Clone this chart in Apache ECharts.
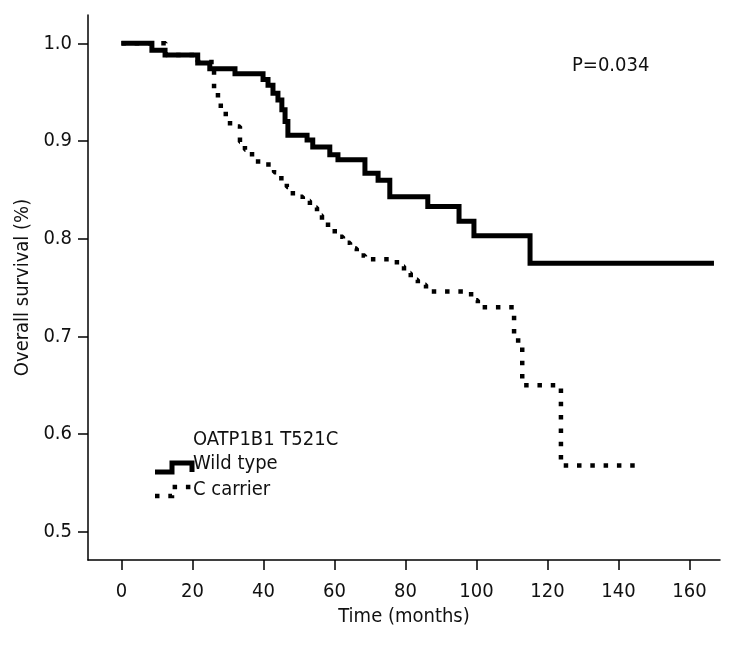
<!DOCTYPE html>
<html>
<head>
<meta charset="utf-8">
<style>
  html, body { margin: 0; padding: 0; background: #fff; }
  #chart { width: 744px; height: 648px; }
</style>
<script src="https://cdn.jsdelivr.net/npm/echarts@6/dist/echarts.min.js"></script>
</head>
<body>
<div id="chart"></div>
<script>
// Kaplan-Meier step data: [month, survival] — survival drops to the value at that month
const wildType = [
  [0, 1.0], [8.6, 0.993], [12.3, 0.988], [21.5, 0.980], [24.9, 0.974], [32.0, 0.969],
  [39.9, 0.963], [41.3, 0.957], [42.7, 0.949], [44.1, 0.942], [45.2, 0.932], [46.1, 0.920],
  [46.9, 0.906], [52.3, 0.901], [53.9, 0.894], [58.7, 0.886], [61.0, 0.881], [68.6, 0.867],
  [72.3, 0.860], [75.6, 0.843], [86.3, 0.833], [95.1, 0.818], [99.3, 0.803], [115.1, 0.775],
  [166.9, 0.775]
];
const cCarrier = [
  [0, 1.0], [12.5, 0.988], [21.5, 0.981], [26.1, 0.952], [27.2, 0.942], [28.0, 0.932],
  [29.4, 0.924], [30.6, 0.915], [33.4, 0.899], [34.8, 0.891], [36.8, 0.883], [38.5, 0.876],
  [43.0, 0.868], [44.4, 0.862], [46.6, 0.853], [48.3, 0.843], [51.1, 0.839], [53.1, 0.832],
  [55.1, 0.824], [56.5, 0.817], [58.2, 0.811], [60.1, 0.802], [62.4, 0.796], [64.4, 0.790],
  [66.3, 0.783], [68.6, 0.779], [77.6, 0.772], [79.6, 0.765], [81.5, 0.758], [83.5, 0.753],
  [85.8, 0.746], [98.5, 0.737], [100.4, 0.730], [110.6, 0.696], [112.9, 0.650],
  [123.8, 0.568], [146.1, 0.568]
];
const xTicks = [0, 20, 40, 60, 80, 100, 120, 140, 160];
const yTicks = [0.5, 0.6, 0.7, 0.8, 0.9, 1.0];
const seriesNames = ['Wild type', 'C carrier'];
const legendTitle = 'OATP1B1 T521C';
const pText = 'P=0.034';

const FONT = '"Liberation Sans Narrow", "DejaVu Sans Condensed", "Noto Sans", sans-serif';
const chart = echarts.init(document.getElementById('chart'));

const axisCommon = {
  axisLine: { show: true, onZero: false, lineStyle: { color: '#000', width: 1.5 } },
  axisTick: { show: true, inside: false, length: 10, lineStyle: { color: '#000', width: 1.5 } },
  splitLine: { show: false },
  nameTextStyle: { color: '#111', fontFamily: FONT, fontSize: 20 }
};

chart.setOption({
  animation: false,
  backgroundColor: '#fff',
  grid: { left: 88, right: 24, top: 15, bottom: 88, containLabel: false },
  xAxis: Object.assign({}, axisCommon, {
    type: 'value', min: -9.4, max: 168.6,
    name: 'Time (months)', nameLocation: 'middle', nameGap: 47,
    axisTick: Object.assign({}, axisCommon.axisTick, { customValues: xTicks }),
    axisLabel: { customValues: xTicks, margin: 22, color: '#111', fontFamily: FONT, fontSize: 20 }
  }),
  yAxis: Object.assign({}, axisCommon, {
    type: 'value', min: 0.4713, max: 1.029,
    name: 'Overall survival (%)', nameLocation: 'middle', nameGap: 49, nameRotate: 90,
    axisTick: Object.assign({}, axisCommon.axisTick, { customValues: yTicks }),
    axisLabel: { customValues: yTicks, margin: 16, color: '#111', fontFamily: FONT, fontSize: 20,
      formatter: v => v.toFixed(1) }
  }),
  series: [
    { name: seriesNames[0], type: 'line', step: 'end', data: wildType, showSymbol: false,
      lineStyle: { color: '#000', width: 5, cap: 'butt', join: 'miter' }, z: 3 },
    { name: seriesNames[1], type: 'line', step: 'end', data: cCarrier, showSymbol: false,
      lineStyle: { color: '#000', width: 4.5, type: [4.5, 8.8], cap: 'butt' }, z: 2 }
  ],
  graphic: [
    { type: 'text', left: 572, top: 56, style: { text: pText, fill: '#111', font: '20px ' + FONT } },
    { type: 'text', left: 193, top: 430, style: { text: legendTitle, fill: '#111', font: '20px ' + FONT } },
    { type: 'text', left: 193, top: 454, style: { text: seriesNames[0], fill: '#111', font: '20px ' + FONT } },
    { type: 'text', left: 193, top: 480, style: { text: seriesNames[1], fill: '#111', font: '20px ' + FONT } },
    { type: 'polyline', shape: { points: [[155, 472], [172, 472], [172, 463], [192, 463], [192, 472]] },
      style: { stroke: '#000', lineWidth: 5, fill: null, lineJoin: 'miter' } },
    { type: 'polyline', shape: { points: [[155, 496], [172, 496], [172, 487], [192, 487]] },
      style: { stroke: '#000', lineWidth: 4.5, fill: null, lineDash: [4.5, 8.8] } }
  ]
});
</script>
</body>
</html>
